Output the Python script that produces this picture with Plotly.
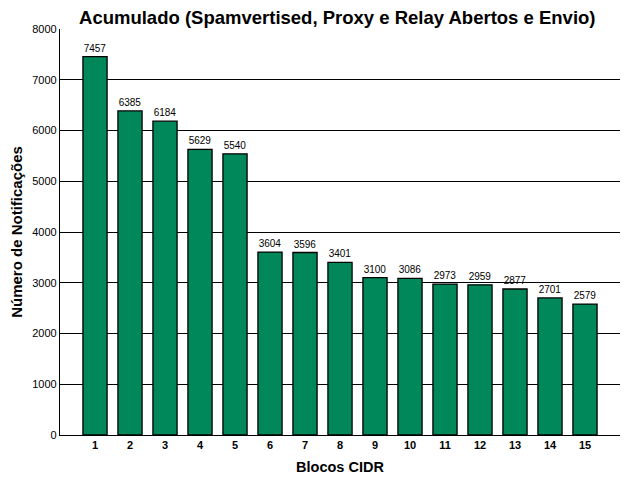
import plotly.graph_objects as go

categories = [str(i) for i in range(1, 16)]
values = [7457, 6385, 6184, 5629, 5540, 3604, 3596, 3401, 3100, 3086, 2973, 2959, 2877, 2701, 2579]
y_ticks = [0, 1000, 2000, 3000, 4000, 5000, 6000, 7000, 8000]

fig = go.Figure(go.Bar(
    x=list(range(1, 16)), y=values,
    marker=dict(color="#00875A", line=dict(color="black", width=1.3)),
    width=0.69,
    text=[str(v) for v in values], textposition="outside",
    textfont=dict(family="Liberation Sans", size=10, color="black"),
    cliponaxis=False,
))

fig.update_layout(
    width=632, height=472,
    paper_bgcolor="white", plot_bgcolor="white",
    margin=dict(l=52, r=20, t=21, b=45),
    showlegend=False,
    title=dict(text="<b>Acumulado (Spamvertised, Proxy e Relay Abertos e Envio)</b>",
               x=0.521, xanchor="center", y=0.979, yanchor="middle",
               font=dict(family="Liberation Sans", size=18.5, color="black")),
    font=dict(family="Liberation Sans", color="black"),
)
fig.update_xaxes(
    range=[0, 16], tickmode="array", tickvals=list(range(1, 16)),
    ticktext=["<b>%s</b>" % c for c in categories],
    tickfont=dict(size=11, family="Liberation Sans"),
    showgrid=False, showline=True, linecolor="black", linewidth=1.3,
    ticks="", zeroline=False, automargin=False,
    title=dict(text="<b>Blocos CIDR</b>", font=dict(size=14.5, family="Liberation Sans"), standoff=11),
)
fig.update_yaxes(
    range=[0, 8000], tickmode="array", tickvals=y_ticks,
    tickfont=dict(size=11, family="Liberation Sans"),
    showgrid=True, gridcolor="black", gridwidth=1,
    showline=True, linecolor="black", linewidth=1.3,
    ticks="", zeroline=False, automargin=False,
    title=dict(text="<b>Número de Notificações</b>", font=dict(size=15, family="Liberation Sans"), standoff=13),
)

fig.write_html("out.html")
